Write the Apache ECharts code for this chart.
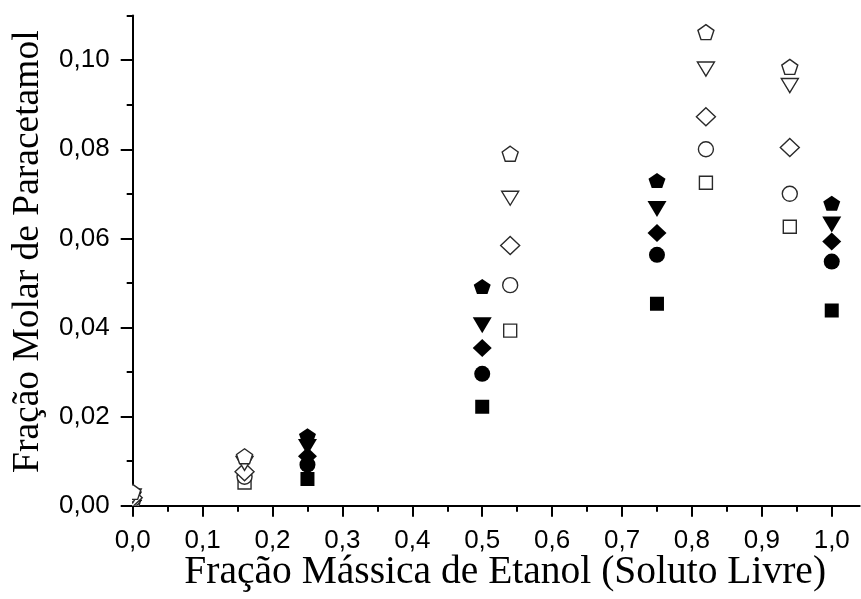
<!DOCTYPE html>
<html>
<head>
<meta charset="utf-8">
<script src="https://cdn.jsdelivr.net/npm/echarts@6/dist/echarts.min.js"></script>
<style>
  html, body { margin: 0; padding: 0; background: #ffffff; }
  #chart { width: 861px; height: 599px; }
</style>
</head>
<body>
<div id="chart"></div>
<script>
// Ethanol mass fraction (solute-free basis) for the two groups of measurements
const xFilled = [0, 0.25, 0.5, 0.75, 1.0];
const xOpen = [0, 0.16, 0.54, 0.82, 0.94];

// Paracetamol mole fraction, filled-symbol series
const filledSquare   = [0.0008, 0.0060, 0.0222, 0.0453, 0.0438];
const filledCircle   = [0.0010, 0.0092, 0.0296, 0.0563, 0.0548];
const filledDiamond  = [0.0012, 0.0111, 0.0354, 0.0612, 0.0593];
const filledTriangle = [0.0014, 0.0132, 0.0405, 0.0666, 0.0631];
const filledPentagon = [0.0016, 0.0157, 0.0492, 0.0730, 0.0679];

// Paracetamol mole fraction, open-symbol series
const openSquare   = [0.0012, 0.0052, 0.0393, 0.0725, 0.0626];
const openCircle   = [0.0015, 0.0065, 0.0495, 0.0800, 0.0700];
const openDiamond  = [0.0018, 0.0076, 0.0584, 0.0873, 0.0804];
const openTriangle = [0.0022, 0.0095, 0.0690, 0.0980, 0.0943];
const openPentagon = [0.0031, 0.0111, 0.0790, 0.1063, 0.0985];

// Axis ticks
const xTicks = [0, 0.1, 0.2, 0.3, 0.4, 0.5, 0.6, 0.7, 0.8, 0.9, 1.0];
const xMinorTicks = [0.05, 0.15, 0.25, 0.35, 0.45, 0.55, 0.65, 0.75, 0.85, 0.95];
const yTicks = [0, 0.02, 0.04, 0.06, 0.08, 0.10];
const yMinorTicks = [0.01, 0.03, 0.05, 0.07, 0.09, 0.11];

const xTitle = 'Fração Mássica de Etanol (Soluto Livre)';
const yTitle = 'Fração Molar de Paracetamol';

// Marker outlines in a unit box
const SHAPES = {
  square:   { path: 'M-1,-1 L1,-1 L1,1 L-1,1 Z' },
  circle:   { circle: true },
  diamond:  { path: 'M0,-1 L1,0 L0,1 L-1,0 Z' },
  triangle: { path: 'M-1,-1 L1,-1 L0,1 Z' },
  pentagon: { path: 'M0,-1 L0.951,-0.309 L0.588,0.809 L-0.588,0.809 L-0.951,-0.309 Z' }
};

function markerSeries(xs, ys, shape, w, h, open) {
  const def = SHAPES[shape];
  const style = open
    ? { fill: '#ffffff', stroke: '#2a2a2a', lineWidth: 1.4 }
    : { fill: '#000000', stroke: null };
  return {
    type: 'custom',
    coordinateSystem: 'cartesian2d',
    xAxisIndex: 0,
    yAxisIndex: 0,
    clip: true,
    silent: true,
    data: xs.map((x, i) => [x, ys[i]]),
    encode: { x: 0, y: 1 },
    renderItem: function (params, api) {
      const p = api.coord([api.value(0), api.value(1)]);
      if (def.circle) {
        return { type: 'circle', shape: { cx: p[0], cy: p[1], r: w / 2 }, style: style };
      }
      return {
        type: 'path',
        shape: { pathData: def.path, x: p[0] - w / 2, y: p[1] - h / 2, width: w, height: h, layout: 'cover' },
        style: style
      };
    }
  };
}

const fmtX = v => v.toFixed(1).replace('.', ',');
const fmtY = v => v.toFixed(2).replace('.', ',');

const tickFont = { fontFamily: '"Liberation Sans", Arial, sans-serif', fontSize: 26, color: '#000' };
const serif = '"Liberation Serif", "Times New Roman", serif';

const chart = echarts.init(document.getElementById('chart'), null, { renderer: 'canvas' });
chart.setOption({
  animation: false,
  backgroundColor: '#ffffff',
  grid: { left: 132.7, right: 1.3, top: 15.6, bottom: 93.3, containLabel: false, outerBoundsMode: 'none' },
  xAxis: [
    {
      type: 'value', min: 0, max: 1.04, position: 'bottom',
      name: xTitle, nameLocation: 'middle', nameGap: 47, nameMoveOverlap: false,
      nameTextStyle: { fontFamily: serif, fontSize: 39.5, color: '#000', padding: [0, 0, 0, 18] },
      axisLine: { show: true, lineStyle: { color: '#000', width: 2 } },
      axisTick: { show: true, inside: false, length: 11, customValues: xTicks, lineStyle: { color: '#000', width: 2 } },
      axisLabel: { show: true, customValues: xTicks, margin: 22, formatter: fmtX, ...tickFont },
      splitLine: { show: false }
    },
    {
      type: 'value', min: 0, max: 1.04, position: 'bottom',
      axisLine: { show: false },
      axisTick: { show: true, inside: false, length: 6, customValues: xMinorTicks, lineStyle: { color: '#000', width: 2 } },
      axisLabel: { show: false },
      splitLine: { show: false }
    }
  ],
  yAxis: [
    {
      type: 'value', min: 0, max: 0.11, position: 'left',
      name: yTitle, nameLocation: 'middle', nameGap: 86, nameMoveOverlap: false,
      nameTextStyle: { fontFamily: serif, fontSize: 37.5, color: '#000', padding: [0, 0, 0, 18] },
      axisLine: { show: true, lineStyle: { color: '#000', width: 2 } },
      axisTick: { show: true, inside: false, length: 12, customValues: yTicks, lineStyle: { color: '#000', width: 2 } },
      axisLabel: { show: true, customValues: yTicks, margin: 23, formatter: fmtY, ...tickFont },
      splitLine: { show: false }
    },
    {
      type: 'value', min: 0, max: 0.11, position: 'left',
      axisLine: { show: false },
      axisTick: { show: true, inside: false, length: 6, customValues: yMinorTicks, lineStyle: { color: '#000', width: 2 } },
      axisLabel: { show: false },
      splitLine: { show: false }
    }
  ],
  series: [
    markerSeries(xFilled, filledSquare, 'square', 14, 14, false),
    markerSeries(xFilled, filledCircle, 'circle', 16, 16, false),
    markerSeries(xFilled, filledDiamond, 'diamond', 19, 18, false),
    markerSeries(xFilled, filledTriangle, 'triangle', 19, 16, false),
    markerSeries(xFilled, filledPentagon, 'pentagon', 17, 15, false),
    markerSeries(xOpen, openSquare, 'square', 13, 13, true),
    markerSeries(xOpen, openCircle, 'circle', 15, 15, true),
    markerSeries(xOpen, openDiamond, 'diamond', 19, 18, true),
    markerSeries(xOpen, openTriangle, 'triangle', 17, 14, true),
    markerSeries(xOpen, openPentagon, 'pentagon', 16, 15, true)
  ]
});
</script>
</body>
</html>
